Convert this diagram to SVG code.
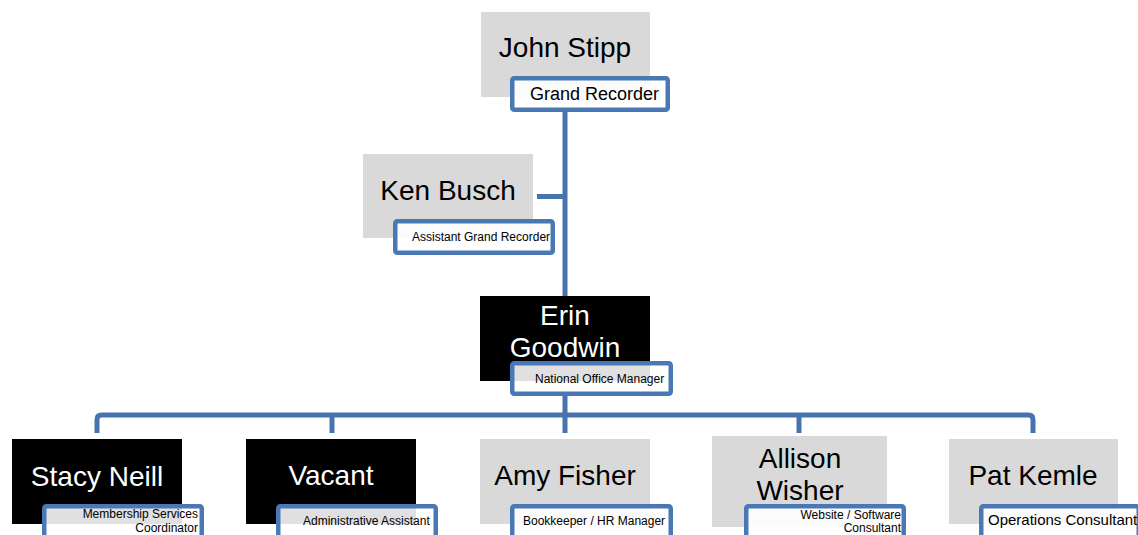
<svg xmlns="http://www.w3.org/2000/svg" width="1138" height="535" viewBox="0 0 1138 535">
<style>
  .conn{fill:none;stroke:#4773AE;stroke-width:5;stroke-linejoin:round}
  .gray{fill:#D9D9D9}
  .black{fill:#000000}
  .lbl{fill:#FFFFFF;fill-opacity:0.88;stroke:#4A78B4;stroke-width:4.5}
  .name{font-family:"Liberation Sans",Arial,sans-serif;font-size:28px;text-anchor:middle}
  .dark{fill:#000000}
  .light{fill:#FFFFFF}
  .sm{font-family:"Liberation Sans",Arial,sans-serif;font-size:12px;fill:#000000}
</style>
<rect width="1138" height="535" fill="#FFFFFF"/>
<g id="connectors">
  <path class="conn" d="M565 108 V298"/>
  <path class="conn" d="M537 196.5 H565"/>
  <path class="conn" d="M565 392 V415"/>
  <path class="conn" d="M97 433 V419.5 Q97 415 101.5 415 H1028.5 Q1033 415 1033 419.5 V433"/>
  <path class="conn" d="M332 415 V433"/>
  <path class="conn" d="M565 415 V433"/>
  <path class="conn" d="M799 415 V433"/>
</g>
<g id="john">
  <rect class="gray" x="481" y="12" width="169" height="85"/>
  <text class="name dark" x="565" y="57">John Stipp</text>
  <rect class="lbl" x="512.25" y="78.25" width="155.5" height="31.5" rx="2"/>
  <text class="sm" x="530" y="100" style="font-size:18px">Grand Recorder</text>
</g>
<g id="ken">
  <rect class="gray" x="363" y="154" width="170" height="84"/>
  <text class="name dark" x="448" y="200">Ken Busch</text>
  <rect class="lbl" x="395.25" y="221.25" width="157.5" height="31.5" rx="2"/>
  <text class="sm" x="412" y="241">Assistant Grand Recorder</text>
</g>
<g id="erin">
  <rect class="black" x="480" y="296" width="170" height="85"/>
  <text class="name light" x="565" y="325">Erin</text>
  <text class="name light" x="565" y="357">Goodwin</text>
  <rect class="lbl" x="512.25" y="363.25" width="158.5" height="30.5" rx="2"/>
  <text class="sm" x="535" y="383">National Office Manager</text>
</g>
<g id="stacy">
  <rect class="black" x="12" y="439" width="170" height="85"/>
  <text class="name light" x="97" y="486">Stacy Neill</text>
  <rect class="lbl" x="44.25" y="506.25" width="157.5" height="35" rx="2"/>
  <text class="sm" x="198" y="518" text-anchor="end">Membership Services</text>
  <text class="sm" x="198" y="532" text-anchor="end">Coordinator</text>
</g>
<g id="vacant">
  <rect class="black" x="246" y="439" width="170" height="85"/>
  <text class="name light" x="331" y="485">Vacant</text>
  <rect class="lbl" x="278.25" y="506.25" width="157.5" height="35" rx="2"/>
  <text class="sm" x="303" y="525">Administrative Assistant</text>
</g>
<g id="amy">
  <rect class="gray" x="480" y="439" width="170" height="85"/>
  <text class="name dark" x="565" y="485">Amy Fisher</text>
  <rect class="lbl" x="512.25" y="506.25" width="158.5" height="35" rx="2"/>
  <text class="sm" x="523" y="525">Bookkeeper / HR Manager</text>
</g>
<g id="allison">
  <rect class="gray" x="712" y="436" width="175" height="91"/>
  <text class="name dark" x="800" y="468">Allison</text>
  <text class="name dark" x="800" y="500">Wisher</text>
  <rect class="lbl" x="746.25" y="506.25" width="157.5" height="35" rx="2"/>
  <text class="sm" x="901" y="519" text-anchor="end">Website / Software</text>
  <text class="sm" x="901" y="532" text-anchor="end">Consultant</text>
</g>
<g id="pat">
  <rect class="gray" x="949" y="439" width="169" height="85"/>
  <text class="name dark" x="1033" y="485">Pat Kemle</text>
  <rect class="lbl" x="981.25" y="506.25" width="157.5" height="35" rx="2"/>
  <text class="sm" x="988" y="525" style="font-size:15px">Operations Consultant</text>
</g>
</svg>
